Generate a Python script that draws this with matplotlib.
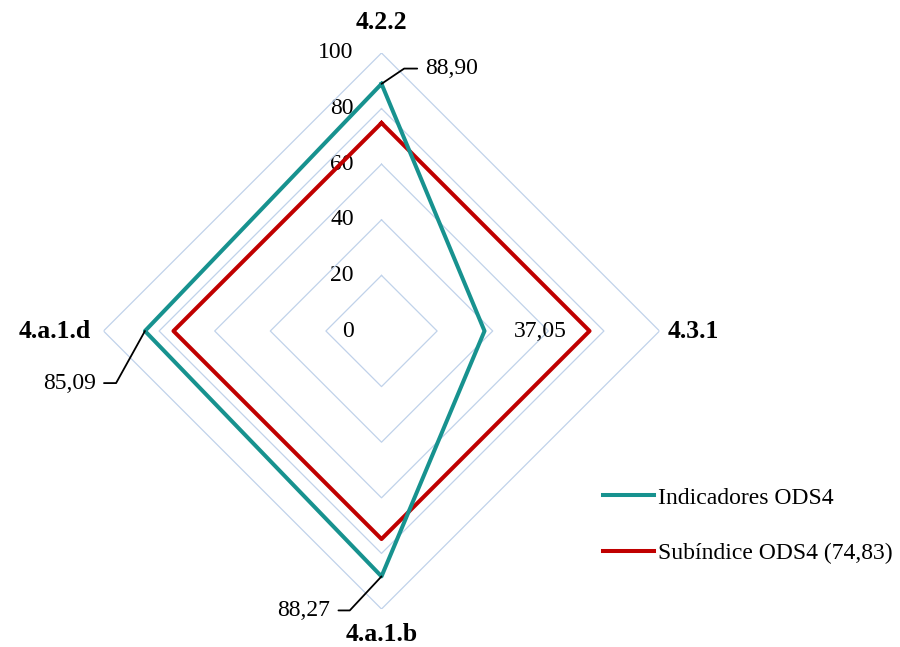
import numpy as np
import matplotlib.pyplot as plt

# ejes del radar (sentido horario desde arriba)
categorias = ['4.2.2', '4.3.1', '4.a.1.b', '4.a.1.d']
indicadores = [88.90, 37.05, 88.27, 85.09]
subindice = [74.83, 74.83, 74.83, 74.83]
niveles = [20, 40, 60, 80, 100]
etiquetas_r = ['0', '20', '40', '60', '80', '100']
etiquetas_valor = ['88,90', '37,05', '88,27', '85,09']
leyenda = ['Indicadores ODS4', 'Subíndice ODS4 (74,83)']

plt.rcParams['font.family'] = ['Liberation Serif', 'DejaVu Serif']

fig = plt.figure(figsize=(9, 6.47), dpi=100)
ax = fig.add_axes([0.115, 0.0587, 0.6178, 0.8594], projection='polar')
ax.set_theta_offset(np.pi / 2)
ax.set_theta_direction(-1)
ax.set_ylim(0, 100)
ax.grid(False)
ax.spines['polar'].set_visible(False)
ax.set_xticks([])
ax.set_yticks([])
ax.patch.set_alpha(0)

ang = np.linspace(0, 2 * np.pi, len(categorias), endpoint=False)
ang_c = np.append(ang, ang[0])

# anillos de la rejilla
for n in niveles:
    ax.plot(ang_c, [n] * len(ang_c), color='#C0D2EA', lw=0.9, zorder=1)

l1, = ax.plot(ang_c, indicadores + indicadores[:1], color='#17928F', lw=2.9, zorder=3)
l2, = ax.plot(ang_c, subindice + subindice[:1], color='#C00000', lw=2.9, zorder=2)

# etiquetas del eje radial
for i, t in enumerate(etiquetas_r):
    ax.annotate(t, xy=(0, i * 20), xytext=(-20, 0), textcoords='offset points',
                ha='right', va='center', fontsize=17, zorder=0)

# nombres de las categorías
off = [(0, 22), (6, 0), (0, -18), (-9, 0)]
al = [('center', 'center'), ('left', 'center'), ('center', 'center'), ('right', 'center')]
for a, c, o, (h, v) in zip(ang, categorias, off, al):
    ax.annotate(c, xy=(a, 100), xytext=o, textcoords='offset points',
                ha=h, va=v, fontsize=18.5, fontweight='bold')

# etiquetas de valores con líneas guía
guias = [((31.7, 11), 'left', 34), (None, None, None),
         ((-37, -24.5), 'right', 47), ((-35.5, -37.5), 'right', 61)]
for a, v, t, g in zip(ang, indicadores, etiquetas_valor, guias):
    if g[0] is None:
        ax.annotate(t, xy=(a, v), xytext=(40, 0), textcoords='offset points',
                    ha='center', va='center', fontsize=17)
        continue
    (dx, dy), h, angb = g
    ax.annotate(t, xy=(a, v), xytext=(dx, dy), textcoords='offset points',
                ha=h, va='center', fontsize=17,
                arrowprops=dict(arrowstyle='-', color='black', lw=1.3,
                                relpos=(0 if h == 'left' else 1, 0.5),
                                shrinkA=4, shrinkB=0,
                                connectionstyle='angle,angleA=0,angleB=%d,rad=0' % angb))

fig.legend([l1, l2], leyenda, loc='upper left', bbox_to_anchor=(603 / 900, 1 - 487 / 647),
           frameon=False, fontsize=17, handlelength=2.16, handletextpad=0.17,
           labelspacing=1.45, borderpad=0, borderaxespad=0)

fig.savefig('out.png', dpi=100)
